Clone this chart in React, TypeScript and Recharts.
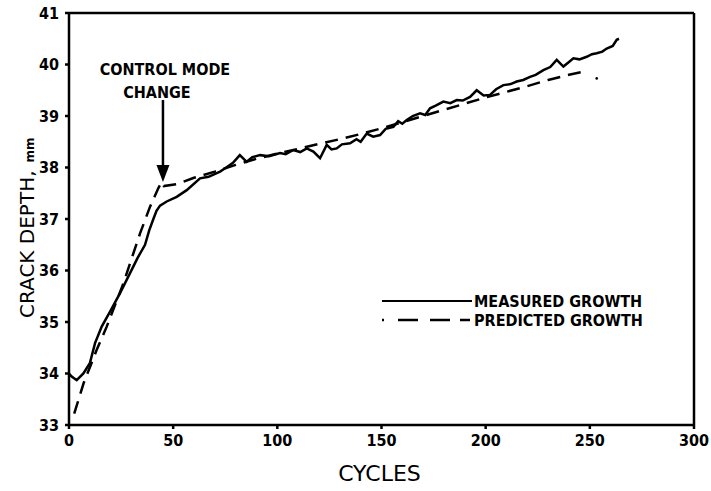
import React from 'react';
import {
  LineChart, Line, XAxis, YAxis, ReferenceLine, ReferenceDot, Legend, Label,
} from 'recharts';

const xTicks = [0, 50, 100, 150, 200, 250, 300];
const yTicks = [33, 34, 35, 36, 37, 38, 39, 40, 41];

const measuredCycles = [
  0, 1.3, 3.7, 6.9, 10, 12.5, 15.7, 19.7, 24.5, 29.3, 33, 36.5, 38.5, 40.5, 42, 43.7, 46.9, 51.7, 56.5, 62.9,
  67, 72.5, 75.5, 78.7, 82, 85.3, 88, 91.7, 96, 101.3, 104, 107.7, 111, 114.1, 117.3, 120.5, 123.7,
  126, 128.5, 131, 134.9, 138, 140, 142.9, 146, 149.3, 152, 155.7, 158, 160, 162.1, 165, 168.5, 171,
  173.3, 176, 179.7, 183, 186.1, 189, 192.5, 195.7, 199, 202.1, 205, 208.5, 212, 214.9, 218, 221.3,
  224, 227.7, 231, 234.1, 237.3, 240, 242.1, 245, 248.5, 251, 253.3, 256, 258.1, 261, 262.9, 264,
];
const measuredDepth = [
  34.0, 33.94, 33.87, 34.0, 34.2, 34.59, 34.91, 35.2, 35.56, 35.95, 36.25, 36.5, 36.78, 37.0, 37.16, 37.26,
  37.34, 37.43, 37.56, 37.79, 37.82, 37.92, 38.0, 38.09, 38.24, 38.11, 38.2, 38.24, 38.22, 38.28, 38.26,
  38.34, 38.3, 38.37, 38.31, 38.18, 38.44, 38.35, 38.37, 38.45, 38.47, 38.55, 38.5, 38.66, 38.6, 38.63,
  38.75, 38.79, 38.9, 38.85, 38.92, 39.0, 39.05, 39.02, 39.15, 39.2, 39.28, 39.25, 39.31, 39.3, 39.37,
  39.5, 39.4, 39.41, 39.52, 39.6, 39.62, 39.67, 39.7, 39.76, 39.8, 39.89, 39.95, 40.09, 39.96, 40.05,
  40.12, 40.1, 40.15, 40.2, 40.22, 40.25, 40.31, 40.36, 40.48, 40.5,
];

const predictedCycles = [
  2.5, 7, 13.3, 18.1, 26.1, 29.3, 34.1, 38.9, 42.9, 44.5, 45.5, 52, 60, 70, 80, 90, 100, 110, 120,
  130, 140, 150, 160, 170, 180, 190, 200, 210, 220, 230, 240, 247,
];
const predictedDepth = [
  33.22, 33.81, 34.46, 34.91, 35.75, 36.14, 36.72, 37.24, 37.6, 37.72, 37.64, 37.68, 37.8, 37.92,
  38.05, 38.17, 38.27, 38.36, 38.46, 38.55, 38.65, 38.76, 38.88, 39.0, 39.12, 39.24, 39.36, 39.47,
  39.58, 39.7, 39.8, 39.86,
];

const arrowCycle = 45.1;
const arrowTop = 39.31;
const arrowTip = 37.72;

const measured = measuredCycles.map((x, i) => ({ x, y: measuredDepth[i] }));
const predicted = predictedCycles.map((x, i) => ({ x, y: predictedDepth[i] }));

const FONT = "'DejaVu Sans Condensed', 'DejaVu Sans', sans-serif";
const TITLE_FONT = "'DejaVu Sans', sans-serif";

const tickStyle = {
  fill: '#000',
  fontFamily: FONT,
  fontStretch: 'condensed',
  fontWeight: 700,
  fontSize: 16,
};

const ArrowHead = (props: any) => {
  const { cx, cy } = props;
  return <path d={`M${cx - 6.5},${cy - 17} L${cx + 6.5},${cy - 17} L${cx},${cy} Z`} fill="#000" />;
};

const LegendContent = () => (
  <svg width={270} height={40} style={{ overflow: 'visible' }}>
    <line x1={1} x2={91} y1={9} y2={9} stroke="#000" strokeWidth={2} />
    <text x={93} y={15} style={tickStyle as any}>MEASURED GROWTH</text>
    <line x1={1} x2={91} y1={28} y2={28} stroke="#000" strokeWidth={2.5} strokeDasharray="2 14 20 12 20 10 10" />
    <text x={93} y={34} style={tickStyle as any}>PREDICTED GROWTH</text>
  </svg>
);

export default function App() {
  return (
    <div style={{ position: 'absolute', left: 0, top: 0, background: '#fff' }}>
      <LineChart width={711} height={491} margin={{ top: 13, right: 17, bottom: 6, left: 0 }}>
        <XAxis
          type="number"
          dataKey="x"
          domain={[0, 300]}
          ticks={xTicks}
          allowDataOverflow
          stroke="#000"
          strokeWidth={2.5}
          tickSize={4}
          tickMargin={6}
          tick={tickStyle}
          height={60}
        >
          <Label
            content={(p: any) => {
              const vb = p.viewBox;
              return (
                <text
                  x={vb.x + vb.width / 2 - 2}
                  y={vb.y + 56}
                  textAnchor="middle"
                  style={{ fontFamily: TITLE_FONT, fontSize: 22, fill: '#000' }}
                >
                  CYCLES
                </text>
              );
            }}
          />
        </XAxis>
        <YAxis
          type="number"
          dataKey="y"
          domain={[33, 41]}
          ticks={yTicks}
          allowDataOverflow
          stroke="#000"
          strokeWidth={2.5}
          tickSize={4}
          tickMargin={6}
          tick={tickStyle}
          width={69}
        >
          <Label
            content={(p: any) => {
              const vb = p.viewBox;
              const bx = vb.x + 34;
              const by = vb.y + vb.height - 107;
              return (
                <text
                  x={bx}
                  y={by}
                  transform={`rotate(-90 ${bx} ${by})`}
                  style={{ fontFamily: TITLE_FONT, fill: '#000' }}
                >
                  <tspan fontSize={20}>CRACK DEPTH,</tspan>
                  <tspan fontSize={12} fontWeight={700} dx={8}>mm</tspan>
                </text>
              );
            }}
          />
        </YAxis>
        <ReferenceLine y={41} stroke="#000" strokeWidth={2.5} />
        <ReferenceLine x={300} stroke="#000" strokeWidth={2.5} />
        <Line
          data={measured}
          dataKey="y"
          type="linear"
          stroke="#000"
          strokeWidth={2.5}
          dot={false}
          isAnimationActive={false}
          name="MEASURED GROWTH"
        />
        <Line
          data={predicted}
          dataKey="y"
          type="linear"
          stroke="#000"
          strokeWidth={2.5}
          strokeDasharray="13 8"
          dot={false}
          isAnimationActive={false}
          name="PREDICTED GROWTH"
        />
        <ReferenceLine
          segment={[{ x: arrowCycle, y: arrowTop }, { x: arrowCycle, y: arrowTip + 0.2 }]}
          stroke="#000"
          strokeWidth={2.5}
        />
        <ReferenceDot x={arrowCycle} y={arrowTip} shape={ArrowHead} />
        <ReferenceDot x={253.3} y={39.73} r={1.3} fill="#000" stroke="none" />
        <ReferenceDot
          x={arrowCycle}
          y={arrowTop}
          shape={(p: any) => (
            <g style={{ fontFamily: FONT, fontStretch: 'condensed', fontWeight: 700, fontSize: 16 }}>
              <text x={p.cx + 2} y={p.cy - 25} textAnchor="middle" fill="#000">CONTROL MODE</text>
              <text x={p.cx - 6} y={p.cy - 2} textAnchor="middle" fill="#000">CHANGE</text>
            </g>
          )}
        />
        <Legend
          layout="vertical"
          verticalAlign="middle"
          align="center"
          wrapperStyle={{ position: 'absolute', left: 381, top: 292, width: 270 }}
          content={LegendContent}
        />
      </LineChart>
    </div>
  );
}
